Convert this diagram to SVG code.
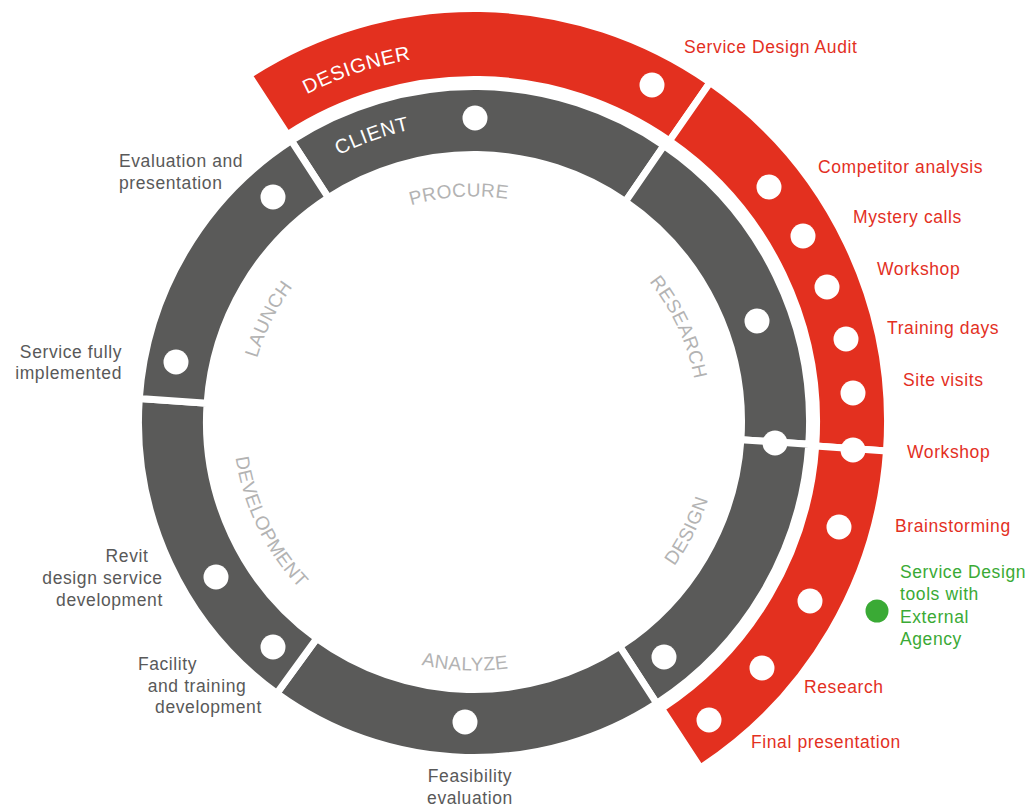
<svg xmlns="http://www.w3.org/2000/svg" width="1030" height="808" viewBox="0 0 1030 808">
<style>
.seg-g{fill:#5a5a59;stroke:#fff;stroke-width:7}
.seg-r{fill:#e3301f;stroke:#fff;stroke-width:7}
.dot{fill:#fff}
.gdot{fill:#3aaa35}
.lbl{font-family:"Liberation Sans",Arial,sans-serif;font-size:17.5px;letter-spacing:0.6px}
.red{fill:#e3301f}
.gray{fill:#595959}
.green{fill:#3aaa35}
.ring{font-family:"Liberation Sans",Arial,sans-serif;font-size:19px;letter-spacing:0.4px;fill:#b3b3b3}
.role{font-family:"Liberation Sans",Arial,sans-serif;font-size:20px;letter-spacing:0.8px;fill:#fff}
.mid{text-anchor:middle}
.end{text-anchor:end}
</style>
<defs>
<path id="arcDesigner" d="M131.8,286.5 A368,368 0 0 1 666.8,108.6"/>
<path id="arcClient" d="M193.7,317.8 A299,299 0 0 1 625.3,164.1"/>
<path id="arcProcure" d="M292.0,288.8 A225.5,225.5 0 0 1 636.8,265.9"/>
<path id="arcResearch" d="M532.9,205.4 A224.5,224.5 0 0 1 677.1,517.6"/>
<path id="arcDesign" d="M529.5,662.4 A246.7,246.7 0 0 0 701.1,325.6"/>
<path id="arcAnalyze" d="M277.8,574.8 A248.7,248.7 0 0 0 658.5,588.7"/>
<path id="arcDevelopment" d="M253.7,324.4 A240.9,240.9 0 0 0 416.1,655.8"/>
<path id="arcLaunch" d="M266.4,511.8 A226.2,226.2 0 0 1 421.6,202.0"/>
</defs>
<rect width="1030" height="808" fill="#fff"/>

<g id="connectors"></g>

<g id="seg-designer">
<path class="seg-r" d="M248.8,75.2 A413.5,413.5 0 0 1 710.0,82.5 L669.5,140.8 A342.5,342.5 0 0 0 287.5,134.7 Z"/>
<text class="role"><textPath href="#arcDesigner" startOffset="50%" text-anchor="middle">DESIGNER</textPath></text>
</g>
<g id="seg-designer-research">
<path class="seg-r" d="M710.0,82.5 A413.5,413.5 0 0 1 886.5,450.9 L815.7,445.9 A342.5,342.5 0 0 0 669.5,140.8 Z"/>
</g>
<g id="seg-designer-design">
<path class="seg-r" d="M886.5,450.9 A413.5,413.5 0 0 1 700.4,768.0 L661.6,708.6 A342.5,342.5 0 0 0 815.7,445.9 Z"/>
</g>

<g id="seg-procure">
<path class="seg-g" d="M291.3,140.6 A335.5,335.5 0 0 1 664.0,145.5 L625.5,201.6 A267.5,267.5 0 0 0 328.3,197.6 Z"/>
<text class="role"><textPath href="#arcClient" startOffset="50%" text-anchor="middle">CLIENT</textPath></text>
<text class="ring"><textPath href="#arcProcure" startOffset="50%" text-anchor="middle">PROCURE</textPath></text>
</g>
<g id="seg-research">
<path class="seg-g" d="M664.0,145.5 A335.5,335.5 0 0 1 808.8,444.2 L740.9,439.7 A267.5,267.5 0 0 0 625.5,201.6 Z"/>
<text class="ring"><textPath href="#arcResearch" startOffset="50%" text-anchor="middle">RESEARCH</textPath></text>
</g>
<g id="seg-design">
<path class="seg-g" d="M808.8,444.2 A335.5,335.5 0 0 1 656.7,703.4 L619.7,646.4 A267.5,267.5 0 0 0 740.9,439.7 Z"/>
<text class="ring"><textPath href="#arcDesign" startOffset="50%" text-anchor="middle">DESIGN</textPath></text>
</g>
<g id="seg-analyze">
<path class="seg-g" d="M656.7,703.4 A335.5,335.5 0 0 1 276.8,693.4 L316.8,638.4 A267.5,267.5 0 0 0 619.7,646.4 Z"/>
<text class="ring"><textPath href="#arcAnalyze" startOffset="50%" text-anchor="middle">ANALYZE</textPath></text>
</g>
<g id="seg-development">
<path class="seg-g" d="M276.8,693.4 A335.5,335.5 0 0 1 139.3,398.6 L207.1,403.3 A267.5,267.5 0 0 0 316.8,638.4 Z"/>
<text class="ring"><textPath href="#arcDevelopment" startOffset="50%" text-anchor="middle">DEVELOPMENT</textPath></text>
</g>
<g id="seg-launch">
<path class="seg-g" d="M139.3,398.6 A335.5,335.5 0 0 1 291.3,140.6 L328.3,197.6 A267.5,267.5 0 0 0 207.1,403.3 Z"/>
<text class="ring"><textPath href="#arcLaunch" startOffset="50%" text-anchor="middle">LAUNCH</textPath></text>
</g>

<!-- client ring milestones -->
<g id="m-client"><circle class="dot" cx="475" cy="118" r="12.5"/></g>
<g id="m-evaluation">
<circle class="dot" cx="273" cy="197" r="12.5"/>
<text class="lbl gray" x="119" y="167">Evaluation and</text>
<text class="lbl gray" x="119" y="189">presentation</text>
</g>
<g id="m-implemented">
<circle class="dot" cx="176" cy="362" r="12.5"/>
<text class="lbl gray end" x="122" y="358">Service fully</text>
<text class="lbl gray end" x="122" y="379">implemented</text>
</g>
<g id="m-revit">
<circle class="dot" cx="216" cy="577" r="12.5"/>
<text class="lbl gray mid" x="127" y="562">Revit</text>
<text class="lbl gray mid" x="102.5" y="584">design service</text>
<text class="lbl gray mid" x="109.5" y="606">development</text>
</g>
<g id="m-facility">
<circle class="dot" cx="273" cy="647" r="12.5"/>
<text class="lbl gray mid" x="167.5" y="670">Facility</text>
<text class="lbl gray mid" x="197" y="692">and training</text>
<text class="lbl gray mid" x="208.5" y="713">development</text>
</g>
<g id="m-feasibility">
<circle class="dot" cx="465" cy="722" r="12.5"/>
<text class="lbl gray mid" x="470" y="782">Feasibility</text>
<text class="lbl gray mid" x="470" y="804">evaluation</text>
</g>
<g id="m-design"><circle class="dot" cx="664" cy="657" r="12.5"/></g>
<g id="m-research-design"><circle class="dot" cx="775" cy="443" r="12.5"/></g>
<g id="m-research"><circle class="dot" cx="757" cy="321" r="12.5"/></g>

<!-- designer ring milestones -->
<g id="d-audit">
<circle class="dot" cx="652" cy="85" r="12.5"/>
<text class="lbl red" x="684" y="53">Service Design Audit</text>
</g>
<g id="d-competitor">
<circle class="dot" cx="769" cy="187" r="12.5"/>
<text class="lbl red" x="818" y="173">Competitor analysis</text>
</g>
<g id="d-mystery">
<circle class="dot" cx="803" cy="236" r="12.5"/>
<text class="lbl red" x="853" y="223">Mystery calls</text>
</g>
<g id="d-workshop1">
<circle class="dot" cx="827" cy="287" r="12.5"/>
<text class="lbl red" x="877" y="275">Workshop</text>
</g>
<g id="d-training">
<circle class="dot" cx="846" cy="339" r="12.5"/>
<text class="lbl red" x="887" y="334">Training days</text>
</g>
<g id="d-site">
<circle class="dot" cx="853" cy="393" r="12.5"/>
<text class="lbl red" x="903" y="386">Site visits</text>
</g>
<g id="d-workshop2">
<circle class="dot" cx="853" cy="450" r="12.5"/>
<text class="lbl red" x="907" y="458">Workshop</text>
</g>
<g id="d-brainstorming">
<circle class="dot" cx="839" cy="527" r="12.5"/>
<text class="lbl red" x="895" y="532">Brainstorming</text>
</g>
<g id="d-tools">
<circle class="dot" cx="810" cy="601" r="12.5"/>
</g>
<g id="d-external">
<circle class="gdot" cx="877" cy="611" r="11.5"/>
<text class="lbl green" x="900" y="578">Service Design</text>
<text class="lbl green" x="900" y="600">tools with</text>
<text class="lbl green" x="900" y="623">External</text>
<text class="lbl green" x="900" y="645">Agency</text>
</g>
<g id="d-research">
<circle class="dot" cx="762" cy="668" r="12.5"/>
<text class="lbl red" x="804" y="693">Research</text>
</g>
<g id="d-final">
<circle class="dot" cx="709" cy="720" r="12.5"/>
<text class="lbl red" x="751" y="748">Final presentation</text>
</g>
</svg>
